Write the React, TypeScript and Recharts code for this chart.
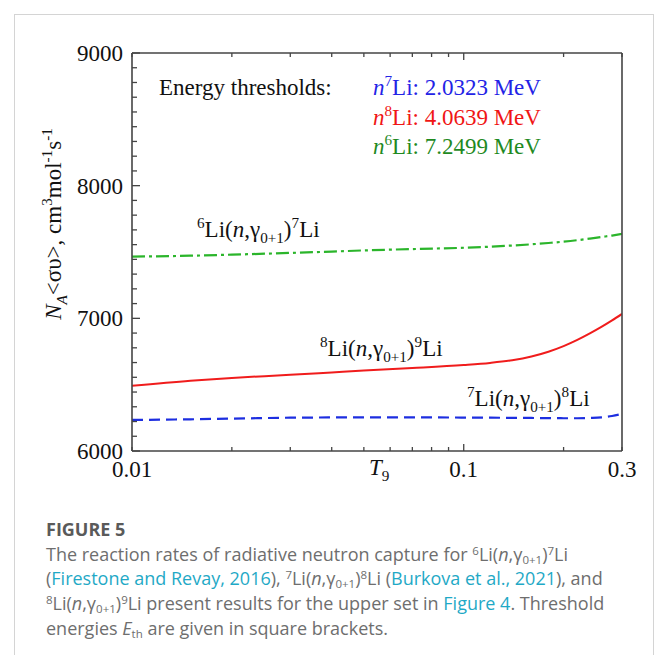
import React from 'react';
import { LineChart, Line, XAxis, YAxis } from 'recharts';

// T9 grid (log axis) and reaction rates
const tValues = [0.01, 0.015, 0.02, 0.03, 0.04, 0.05, 0.07, 0.1, 0.12, 0.14, 0.16, 0.18, 0.2, 0.22, 0.24, 0.26, 0.28, 0.3];
const rate6Li = [7465, 7472, 7480, 7493, 7503, 7512, 7522, 7532, 7540, 7549, 7558, 7568, 7578, 7589, 7601, 7613, 7624, 7636];
const rate7Li = [6234, 6239, 6244, 6251, 6253, 6254, 6254, 6252, 6251, 6250, 6249, 6248, 6247, 6247, 6249, 6253, 6264, 6280];
const rate8Li = [6491, 6530, 6551, 6574, 6592, 6606, 6625, 6648, 6664, 6684, 6712, 6748, 6790, 6837, 6886, 6935, 6984, 7033];

const xTicks = [0.01, 0.02, 0.03, 0.04, 0.05, 0.06, 0.07, 0.08, 0.09, 0.1, 0.2, 0.3];
const xLabels = ['0.01', '0.1', '0.3'];
const xMajor = [0.1];
const yMajorTicks = [6000, 7000, 8000, 9000];
const yMinorPerMajor = 9;

const yTicks: number[] = [];
for (let m = 0; m < yMajorTicks.length - 1; m++) {
  for (let k = 0; k < yMinorPerMajor; k++) {
    yTicks.push(yMajorTicks[m] + (k * 1000) / yMinorPerMajor);
  }
}
yTicks.push(yMajorTicks[yMajorTicks.length - 1]);

const data = tValues.map((t, i) => ({ t, li6: rate6Li[i], li7: rate7Li[i], li8: rate8Li[i] }));

const SERIF = '"Liberation Serif", "Times New Roman", serif';
const AXIS = '#444';
const FS = 23;

type Seg = { t: string; i?: boolean; sup?: boolean; sub?: boolean };

const Rich = ({ segs, size }: { segs: Seg[]; size: number }) => {
  let shift = 0;
  return (
    <>
      {segs.map((s, k) => {
        const target = s.sup ? -0.4 * size : s.sub ? 0.25 * size : 0;
        const dy = target - shift;
        shift = target;
        return (
          <tspan
            key={k}
            dy={dy}
            fontStyle={s.i ? 'italic' : 'normal'}
            fontSize={s.sup || s.sub ? size * 0.66 : size}
          >
            {s.t}
          </tspan>
        );
      })}
    </>
  );
};

const reaction = (a: string, b: string): Seg[] => [
  { t: a, sup: true },
  { t: 'Li(' },
  { t: 'n', i: true },
  { t: ',γ' },
  { t: '0+1', sub: true },
  { t: ')' },
  { t: b, sup: true },
  { t: 'Li' },
];

const legendRow = (mass: string, text: string): Seg[] => [
  { t: 'n', i: true },
  { t: mass, sup: true },
  { t: text },
];

const fmtX = (v: number) => {
  const s = String(Math.round(v * 100) / 100);
  return xLabels.includes(s) ? s : '';
};

const XTick = (props: any) => {
  const { x, y, payload, top } = props;
  const v = payload.value;
  const len = xMajor.includes(v) ? 7 : 4;
  const label = top ? '' : fmtX(v);
  return (
    <g>
      <line x1={x} x2={x} y1={y} y2={top ? y + len : y - len} stroke={AXIS} strokeWidth={1.3} />
      {label && (
        <text x={x} y={y + 26} textAnchor="middle" fontFamily={SERIF} fontSize={FS} fill="#111">
          {label}
        </text>
      )}
    </g>
  );
};

const YTick = (props: any) => {
  const { x, y, payload, right } = props;
  const v = Math.round(payload.value);
  const major = yMajorTicks.includes(v);
  const len = major ? 8 : 5;
  return (
    <g>
      <line x1={x} x2={right ? x - len : x + len} y1={y} y2={y} stroke={AXIS} strokeWidth={1.3} />
      {major && !right && (
        <text x={x - 9} y={y + 8} textAnchor="end" fontFamily={SERIF} fontSize={FS} fill="#111">
          {v}
        </text>
      )}
    </g>
  );
};

const linkColor = '#1fa9c6';
const supStyle: React.CSSProperties = { fontSize: 11.5, lineHeight: 0, position: 'relative', top: -6 };
const subStyle: React.CSSProperties = { fontSize: 11.5, lineHeight: 0, position: 'relative', top: 3 };
const Sup = ({ c }: { c: string }) => <span style={supStyle}>{c}</span>;
const Sub = ({ c }: { c: string }) => <span style={subStyle}>{c}</span>;

const axisCommon = {
  tickSize: 0,
  tickMargin: 0,
  tickLine: false,
  interval: 0 as const,
  axisLine: { stroke: AXIS, strokeWidth: 1.6 },
};

export default function App() {
  return (
    <div style={{ position: 'absolute', left: 0, top: 0, width: 657, height: 655, background: '#fff', overflow: 'hidden' }}>
      <div
        style={{
          position: 'absolute',
          left: 14,
          top: 14,
          width: 640,
          height: 700,
          border: '1px solid #d4d4d4',
          boxSizing: 'border-box',
        }}
      />
      <div style={{ position: 'absolute', left: 0, top: 0 }}>
        <LineChart width={657} height={500} data={data} margin={{ top: 43, right: 25, bottom: 19, left: 72 }}>
          <XAxis
            xAxisId="b"
            dataKey="t"
            type="number"
            scale="log"
            domain={[0.01, 0.3]}
            allowDataOverflow
            ticks={xTicks}
            height={30}
            {...axisCommon}
            tick={(p: any) => <XTick {...p} />}
          />
          <XAxis
            xAxisId="t"
            orientation="top"
            dataKey="t"
            type="number"
            scale="log"
            domain={[0.01, 0.3]}
            allowDataOverflow
            ticks={xTicks}
            height={10}
            {...axisCommon}
            tick={(p: any) => <XTick {...p} top />}
          />
          <YAxis
            yAxisId="l"
            type="number"
            domain={[6000, 9000]}
            ticks={yTicks}
            width={60}
            {...axisCommon}
            tick={(p: any) => <YTick {...p} />}
          />
          <YAxis
            yAxisId="r"
            orientation="right"
            type="number"
            domain={[6000, 9000]}
            ticks={yTicks}
            width={10}
            {...axisCommon}
            tick={(p: any) => <YTick {...p} right />}
          />
          <Line
            xAxisId="b"
            yAxisId="l"
            type="monotone"
            dataKey="li6"
            stroke="#2bb52b"
            strokeWidth={2.2}
            strokeDasharray="13 4 3 4"
            dot={false}
            isAnimationActive={false}
          />
          <Line
            xAxisId="b"
            yAxisId="l"
            type="monotone"
            dataKey="li8"
            stroke="#f01c1c"
            strokeWidth={2}
            dot={false}
            isAnimationActive={false}
          />
          <Line
            xAxisId="b"
            yAxisId="l"
            type="monotone"
            dataKey="li7"
            stroke="#1d2ee0"
            strokeWidth={2.2}
            strokeDasharray="11 6"
            dot={false}
            isAnimationActive={false}
          />
        </LineChart>
      </div>
      <svg width={657} height={500} style={{ position: 'absolute', left: 0, top: 0, pointerEvents: 'none' }}>
        <g fontFamily={SERIF} fontSize={FS}>
          <text x={159} y={95} fill="#111">Energy thresholds:</text>
          <text x={373} y={95} fill="#2323e6">
            <Rich size={FS} segs={legendRow('7', 'Li: 2.0323 MeV')} />
          </text>
          <text x={373} y={125} fill="#f01515">
            <Rich size={FS} segs={legendRow('8', 'Li: 4.0639 MeV')} />
          </text>
          <text x={373} y={154} fill="#1f8a1f">
            <Rich size={FS} segs={legendRow('6', 'Li: 7.2499 MeV')} />
          </text>
          <text x={197} y={237} fill="#111">
            <Rich size={FS} segs={reaction('6', '7')} />
          </text>
          <text x={320} y={356} fill="#111">
            <Rich size={FS} segs={reaction('8', '9')} />
          </text>
          <text x={467} y={406} fill="#111">
            <Rich size={FS} segs={reaction('7', '8')} />
          </text>
          <text x={369} y={475} fill="#111">
            <Rich size={FS} segs={[{ t: 'T', i: true }, { t: '9', sub: true }]} />
          </text>
          <text transform="translate(61,224) rotate(-90)" textAnchor="middle" fill="#111">
            <Rich
              size={FS}
              segs={[
                { t: 'N', i: true },
                { t: 'A', i: true, sub: true },
                { t: '<συ>, cm' },
                { t: '3', sup: true },
                { t: 'mol' },
                { t: '-1', sup: true },
                { t: 's' },
                { t: '-1', sup: true },
              ]}
            />
          </text>
        </g>
      </svg>
      <div
        style={{
          position: 'absolute',
          left: 46,
          top: 517,
          fontFamily: '"Open Sans", sans-serif',
          color: '#6e6e6e',
          fontSize: 18,
          lineHeight: '24.7px',
          whiteSpace: 'nowrap',
        }}
      >
        <div style={{ fontWeight: 700, fontSize: 18, color: '#5a5a5a' }}>FIGURE 5</div>
        <div>
          The reaction rates of radiative neutron capture for <Sup c="6" />Li(<i>n</i>,γ<Sub c="0+1" />)<Sup c="7" />Li
        </div>
        <div>
          (<span style={{ color: linkColor }}>Firestone and Revay, 2016</span>), <Sup c="7" />Li(<i>n</i>,γ
          <Sub c="0+1" />)<Sup c="8" />Li (<span style={{ color: linkColor }}>Burkova et al., 2021</span>), and
        </div>
        <div>
          <Sup c="8" />Li(<i>n</i>,γ<Sub c="0+1" />)<Sup c="9" />Li present results for the upper set in{' '}
          <span style={{ color: linkColor }}>Figure 4</span>. Threshold
        </div>
        <div>
          energies <i>E</i>
          <Sub c="th" /> are given in square brackets.
        </div>
      </div>
    </div>
  );
}
